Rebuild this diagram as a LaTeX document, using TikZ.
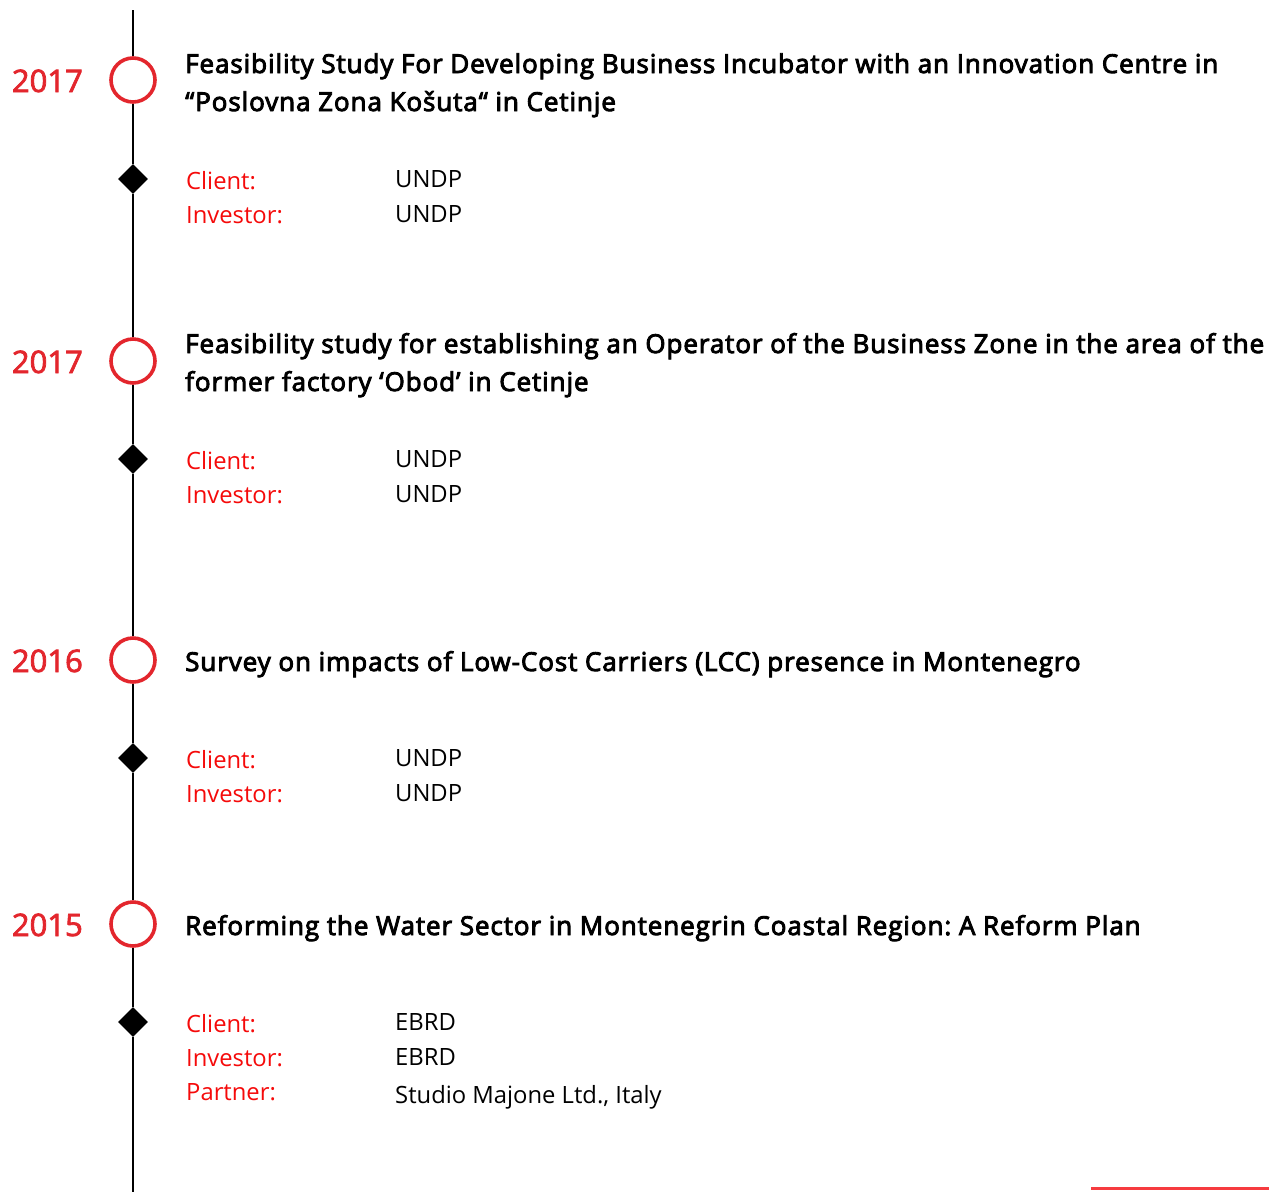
\documentclass[tikz,border=0pt]{standalone}
\usepackage{fontspec}
\setmainfont{Open Sans}
\newfontfamily\semibold{Open Sans}[FakeBold=3.5,LetterSpace=3.5]
\newfontfamily\yearfont{Open Sans}[FakeBold=2.5]
\frenchspacing
\usetikzlibrary{positioning,shapes.geometric}
\definecolor{yearred}{HTML}{E3262D}
\definecolor{keyred}{HTML}{F50A0A}
\definecolor{barred}{HTML}{F63B3F}
\tikzset{yearring/.style={
  shape=circle,
  draw=yearred,
  fill=white,
  line width=3.6pt,
  minimum size=44pt,
  inner sep=0pt,
  }
}
\tikzset{stepmark/.style={
  shape=diamond,
  fill=black,
  minimum size=30pt,
  inner sep=0pt,
  }
}
\tikzset{yeartext/.style={text=yearred, font=\yearfont\fontsize{31}{36}\selectfont, anchor=base east, inner sep=0pt}}
\tikzset{titletext/.style={font=\semibold\fontsize{26}{38}\selectfont, anchor=base west, align=left, inner sep=0pt}}
\tikzset{keytext/.style={text=keyred, font=\fontsize{23.8}{28}\selectfont, anchor=base west, inner sep=0pt}}
\tikzset{valtext/.style={font=\fontsize{23.8}{28}\selectfont, anchor=base west, inner sep=0pt}}

\begin{document}
\begin{tikzpicture}[x=1pt,y=-1pt]
      \useasboundingbox (0,0) rectangle (1269,1192);

      \coordinate (top) at (133,10);
      \coordinate (bot) at (133,1192);

      \node [yearring] (c1) at (133,80) {};
      \node [stepmark] (d1) at (133,179) {};
      \node [yearring] (c2) at (133,361) {};
      \node [stepmark] (d2) at (133,459) {};
      \node [yearring] (c3) at (133,660) {};
      \node [stepmark] (d3) at (133,758) {};
      \node [yearring] (c4) at (133,924) {};
      \node [stepmark] (d4) at (133,1022) {};

      \draw [line width=2.6pt] (top) -- (c1) -- (d1) -- (c2) -- (d2) -- (c3) -- (d3) -- (c4) -- (d4) -- (bot);

      % 2017 -- Kosuta
      \node [yeartext] (y1) at (83,92) {2017};
      \node [titletext] (t1) at (185,111) {Feasibility Study For Developing Business Incubator with an Innovation Centre in\\“Poslovna Zona Košuta“ in Cetinje};
      \node [keytext] (k1a) at (186,189) {Client:};
      \node [keytext] (k1b) at (186,223) {Investor:};
      \node [valtext] (v1a) at (395,187) {UNDP};
      \node [valtext] (v1b) at (395,222) {UNDP};

      % 2017 -- Obod
      \node [yeartext] (y2) at (83,373) {2017};
      \node [titletext] (t2) at (185,391) {Feasibility study for establishing an Operator of the Business Zone in the area of the\\former factory ‘Obod’ in Cetinje};
      \node [keytext] (k2a) at (186,469) {Client:};
      \node [keytext] (k2b) at (186,503) {Investor:};
      \node [valtext] (v2a) at (395,467) {UNDP};
      \node [valtext] (v2b) at (395,502) {UNDP};

      % 2016 -- LCC
      \node [yeartext] (y3) at (83,672) {2016};
      \node [titletext] (t3) at (185,671) {Survey on impacts of Low-Cost Carriers (LCC) presence in Montenegro};
      \node [keytext] (k3a) at (186,768) {Client:};
      \node [keytext] (k3b) at (186,802) {Investor:};
      \node [valtext] (v3a) at (395,766) {UNDP};
      \node [valtext] (v3b) at (395,801) {UNDP};

      % 2015 -- water sector
      \node [yeartext] (y4) at (83,936) {2015};
      \node [titletext] (t4) at (185,935) {Reforming the Water Sector in Montenegrin Coastal Region: A Reform Plan};
      \node [keytext] (k4a) at (186,1032) {Client:};
      \node [keytext] (k4b) at (186,1066) {Investor:};
      \node [keytext] (k4c) at (186,1100) {Partner:};
      \node [valtext] (v4a) at (395,1030) {EBRD};
      \node [valtext] (v4b) at (395,1065) {EBRD};
      \node [valtext] (v4c) at (395,1103) {Studio Majone Ltd., Italy};

      \coordinate (barL) at (1091,1188.5);
      \coordinate (barR) at (1269,1188.5);
      \draw [barred, line width=3pt] (barL) -- (barR);
    \end{tikzpicture}
\end{document}
